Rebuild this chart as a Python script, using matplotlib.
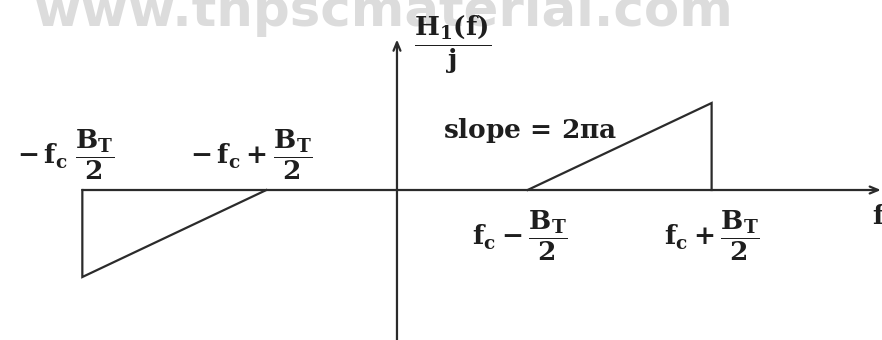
import matplotlib
matplotlib.use("Agg")
import matplotlib.pyplot as plt

# ---- data (abstract units: BT/2 = 1, peak height = 1) ----
fc = 2.42
half_bw = 1.0
peak = 1.0
right_f = [1.42, 3.42, 3.42]
right_h = [0.0, 1.0, 0.0]
left_f = [-3.42, -3.42, -1.42]
left_h = [0.0, -1.0, 0.0]
axis_x = [-3.42, 5.26]
axis_y = [-1.73, 1.73]

labels = [
    (r"$-\,\mathrm{f_c}\;\dfrac{\mathrm{B_T}}{2}$", -3.60, 0.40),
    (r"$-\,\mathrm{f_c} + \dfrac{\mathrm{B_T}}{2}$", -1.58, 0.40),
    (r"$\mathrm{f_c} - \dfrac{\mathrm{B_T}}{2}$", 1.34, -0.53),
    (r"$\mathrm{f_c} + \dfrac{\mathrm{B_T}}{2}$", 3.42, -0.53),
]

plt.rcParams['mathtext.fontset'] = 'custom'
plt.rcParams['mathtext.rm'] = 'DejaVu Serif:bold'
plt.rcParams['mathtext.it'] = 'DejaVu Serif:italic:bold'
plt.rcParams['mathtext.bf'] = 'DejaVu Serif:bold'
plt.rcParams['font.family'] = ['DejaVu Serif']

fig = plt.figure(figsize=(8.82, 3.40), dpi=100)
ax = fig.add_axes([0, 0, 1, 1])
ax.set_xlim(-4.315, 5.272)
ax.set_ylim(-1.724, 2.184)
ax.axis('off')

lc = '#2b2b2b'
lw = 1.6
tc = '#1e1e1e'

# watermark (cut at top edge, as in the scan)
ax.text(-3.95, 1.88, "www.tnpscmaterial.com", family='DejaVu Sans', fontweight='bold',
        fontsize=37, color='#dcdcdc', ha='left', va='baseline', zorder=0)

# axes with open arrowheads
ax.annotate('', xy=(axis_x[1], 0), xytext=(axis_x[0], 0),
            arrowprops=dict(arrowstyle='->,head_length=0.6,head_width=0.25', color=lc, lw=lw,
                            shrinkA=0, shrinkB=0))
ax.annotate('', xy=(0, axis_y[1]), xytext=(0, axis_y[0]),
            arrowprops=dict(arrowstyle='->,head_length=0.6,head_width=0.25', color=lc, lw=lw,
                            shrinkA=0, shrinkB=0))

ax.plot(right_f, right_h, color=lc, lw=lw, solid_joinstyle='miter')
ax.plot(left_f, left_h, color=lc, lw=lw, solid_joinstyle='miter')

fs = 19
for txt, x, y in labels:
    ax.text(x, y, txt, fontsize=fs, ha='center', va='center', color=tc)

ax.text(0.60, 1.67, r"$\dfrac{\mathrm{H_1(f)}}{\mathrm{j}}$", fontsize=fs,
        ha='center', va='center', color=tc)
ax.text(1.45, 0.68, r"slope = 2$\mathrm{\pi}$a", fontsize=fs, fontweight='bold',
        ha='center', va='center', color=tc)
ax.text(5.17, -0.30, r"f", fontsize=fs, fontweight='bold', ha='left', va='center', color=tc)

fig.savefig("out.png", dpi=100)
